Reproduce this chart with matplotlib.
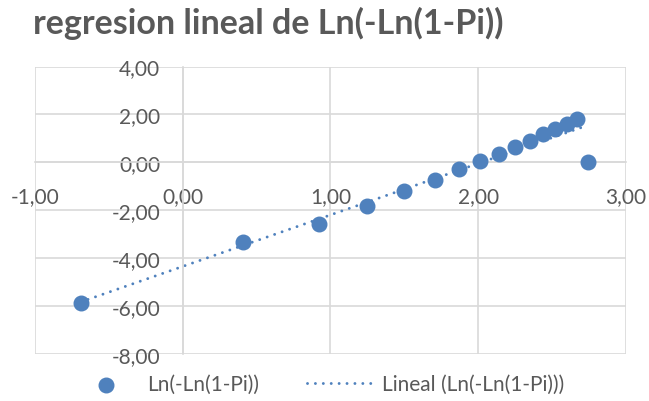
import numpy as np
import matplotlib.pyplot as plt

# x = Ln(t), y = Ln(-Ln(1-Pi))
x_vals = [-0.69, 0.41, 0.92, 1.25, 1.50, 1.71, 1.87, 2.01, 2.14, 2.25, 2.35, 2.44, 2.52, 2.60, 2.67, 2.74]
y_vals = [-5.87, -3.31, -2.58, -1.82, -1.19, -0.73, -0.29, 0.06, 0.36, 0.63, 0.88, 1.17, 1.40, 1.62, 1.79, 0.00]

x_ticks = [-1, 0, 1, 2, 3]
y_ticks = [-8, -6, -4, -2, 0, 2, 4]

series_name = "Ln(-Ln(1-Pi))"
title = "regresion lineal de Ln(-Ln(1-Pi))"

blue = "#4F81BD"
grey_txt = "#595959"
grid_col = "#D9D9D9"

plt.rcParams['font.family'] = ['Lato', 'DejaVu Sans']

fig = plt.figure(figsize=(6.49, 4.02), dpi=100)
ax = fig.add_axes([0.0535, 0.117, 0.911, 0.715])

x = np.array(x_vals)
y = np.array(y_vals)
ax.scatter(x, y, s=110, color=blue, zorder=3, label=series_name)

# linear trendline (least squares over all points)
slope, intercept = np.polyfit(x, y, 1)
xt = np.array([x.min(), x.max()])
ax.plot(xt, slope * xt + intercept, color=blue, lw=2.1,
        linestyle=(0, (0.01, 2.7)), dash_capstyle='round', zorder=2,
        label="Lineal (" + series_name + ")")

ax.set_xlim(-1, 3)
ax.set_ylim(-8, 4)
ax.set_xticks(x_ticks)
ax.set_yticks(y_ticks)
ax.set_xticklabels([f"{v:.2f}".replace('.', ',') for v in x_ticks])
ax.set_yticklabels([f"{v:.2f}".replace('.', ',') for v in y_ticks])
ax.grid(True, color=grid_col, lw=1.2, zorder=0)
ax.set_axisbelow(True)

for side in ['top', 'right']:
    ax.spines[side].set_visible(False)
ax.spines['left'].set_position(('data', 0))
ax.spines['bottom'].set_position(('data', 0))
ax.spines['left'].set_color(grid_col)
ax.spines['bottom'].set_color(grid_col)
ax.spines['left'].set_linewidth(1.2)
ax.spines['bottom'].set_linewidth(1.2)

ax.tick_params(axis='both', length=0, labelsize=15, colors=grey_txt)
ax.tick_params(axis='y', pad=16)
ax.tick_params(axis='x', pad=17)

fig.text(0.051, 0.942, title, fontsize=24.5, fontweight='bold', color=grey_txt,
         ha='left', va='center')

fig.legend(loc='center', bbox_to_anchor=(0.49, 0.042), ncol=2, frameon=False,
           fontsize=15, labelcolor=grey_txt, handlelength=3.3, columnspacing=2.3,
           handletextpad=0.3)

fig.savefig("out.png", dpi=100)
